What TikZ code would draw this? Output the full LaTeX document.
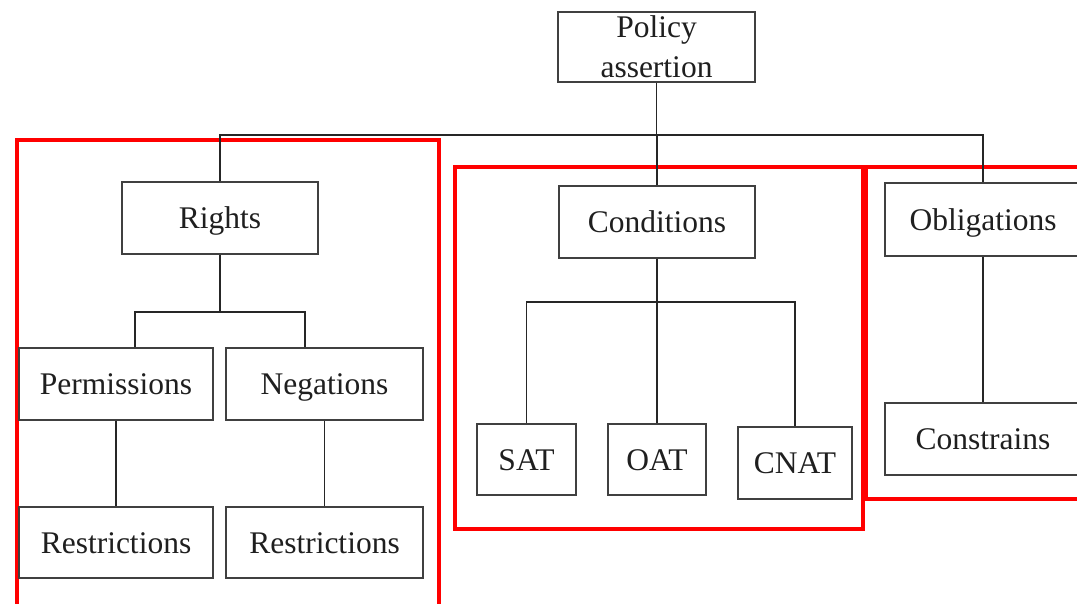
\documentclass[tikz,border=0pt]{standalone}
\usepackage{fontspec}
\setmainfont{Liberation Serif}
\begin{document}
\begin{tikzpicture}[x=1pt,y=-1pt,
  box/.style={draw=black!75, line width=1.6pt, fill=white, inner sep=0pt, minimum height=72pt,
    text=black!88, font=\fontsize{31.5}{40}\selectfont, text height=24pt, text depth=3pt},
  conn/.style={draw=black!85, line width=1.5pt},
  group/.style={draw=red, line width=4pt}]
\clip (0,0) rectangle (1077,603);
\fill[white] (0,0) rectangle (1077,603);
% red group frames
\draw[group] (17,140) rectangle (439,606);
\draw[group] (455,167) rectangle (863,529);
\draw[group] (866,167) rectangle (1095,499);
% nodes
\node[box, minimum width=197pt, minimum height=70pt, align=center, text height=, text depth=] (pa) at (656.5,47) {Policy\\assertion};
\node[box, minimum width=196pt] (rights) at (220,218) {Rights};
\node[box, minimum width=194pt] (perm) at (116,384) {Permissions};
\node[box, minimum width=197pt] (neg) at (324.5,384) {Negations};
\node[box, minimum width=194pt, minimum height=71pt] (res1) at (116,542.5) {Restrictions};
\node[box, minimum width=197pt, minimum height=71pt] (res2) at (324.5,542.5) {Restrictions};
\node[box, minimum width=196pt] (cond) at (657,222) {Conditions};
\node[box, minimum width=99pt, minimum height=71pt] (sat) at (526.5,459.5) {SAT};
\node[box, minimum width=98pt, minimum height=71pt] (oat) at (657,459.5) {OAT};
\node[box, minimum width=114pt] (cnat) at (795,463) {CNAT};
\node[box, minimum width=196pt, minimum height=73pt] (obl) at (983,219.5) {Obligations};
\node[box, minimum width=196pt] (con) at (983,439) {Constrains};
% helper coordinates
\coordinate (bus) at (0,135);
\coordinate (rb) at (0,312);
\coordinate (cb) at (0,302);
% connectors
\draw[conn] (pa.south) -- (pa.south |- bus);
\draw[conn] (rights.north) -- (rights.north |- bus) -| (obl.north);
\draw[conn] (cond.north) -- (cond.north |- bus);
\draw[conn] (rights.south) -- (rights.south |- rb);
\draw[conn] ([xshift=19pt]perm.north) |- ([xshift=-19.5pt]neg.north |- rb) -- ([xshift=-19.5pt]neg.north);
\draw[conn] (perm.south) -- (res1.north);
\draw[conn] (neg.south) -- (res2.north);
\draw[conn] (cond.south) -- (oat.north);
\draw[conn] (sat.north) |- (cnat.north |- cb) -- (cnat.north);
\draw[conn] (obl.south) -- (con.north);
\end{tikzpicture}
\end{document}
